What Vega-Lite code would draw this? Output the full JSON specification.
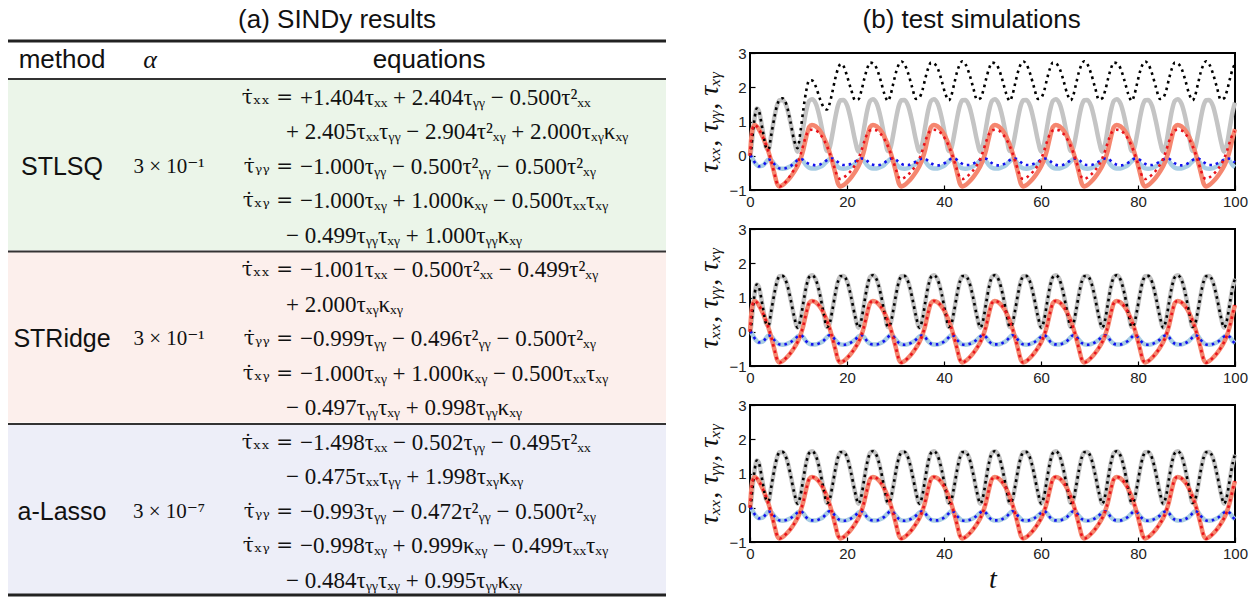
{
  "$schema": "https://vega.github.io/schema/vega-lite/v6.json",
  "padding": {"left": 6, "top": 6, "right": 0, "bottom": 0},
  "background": "white",
  "bounds": "flush",
  "spacing": 84,
  "datasets": {
    "methods": [
      {"method": "STLSQ", "alpha": "3 × 10⁻¹", "mid": 3, "first": 1, "last": 5},
      {"method": "STRidge", "alpha": "3 × 10⁻¹", "mid": 8, "first": 6, "last": 10},
      {"method": "a-Lasso", "alpha": "3 × 10⁻⁷", "mid": 13, "first": 11, "last": 15}
    ],
    "eqs": [
      {"line": 1, "lhs": "τ̇ₓₓ =", "rhs": "+1.404τₓₓ + 2.404τᵧᵧ − 0.500τ²ₓₓ"},
      {"line": 2, "lhs": "", "rhs": "+ 2.405τₓₓτᵧᵧ − 2.904τ²ₓᵧ + 2.000τₓᵧκₓᵧ"},
      {"line": 3, "lhs": "τ̇ᵧᵧ =", "rhs": "−1.000τᵧᵧ − 0.500τ²ᵧᵧ − 0.500τ²ₓᵧ"},
      {"line": 4, "lhs": "τ̇ₓᵧ =", "rhs": "−1.000τₓᵧ + 1.000κₓᵧ − 0.500τₓₓτₓᵧ"},
      {"line": 5, "lhs": "", "rhs": "− 0.499τᵧᵧτₓᵧ + 1.000τᵧᵧκₓᵧ"},
      {"line": 6, "lhs": "τ̇ₓₓ =", "rhs": "−1.001τₓₓ − 0.500τ²ₓₓ − 0.499τ²ₓᵧ"},
      {"line": 7, "lhs": "", "rhs": "+ 2.000τₓᵧκₓᵧ"},
      {"line": 8, "lhs": "τ̇ᵧᵧ =", "rhs": "−0.999τᵧᵧ − 0.496τ²ᵧᵧ − 0.500τ²ₓᵧ"},
      {"line": 9, "lhs": "τ̇ₓᵧ =", "rhs": "−1.000τₓᵧ + 1.000κₓᵧ − 0.500τₓₓτₓᵧ"},
      {"line": 10, "lhs": "", "rhs": "− 0.497τᵧᵧτₓᵧ + 0.998τᵧᵧκₓᵧ"},
      {"line": 11, "lhs": "τ̇ₓₓ =", "rhs": "−1.498τₓₓ − 0.502τᵧᵧ − 0.495τ²ₓₓ"},
      {"line": 12, "lhs": "", "rhs": "− 0.475τₓₓτᵧᵧ + 1.998τₓᵧκₓᵧ"},
      {"line": 13, "lhs": "τ̇ᵧᵧ =", "rhs": "−0.993τᵧᵧ − 0.472τ²ᵧᵧ − 0.500τ²ₓᵧ"},
      {"line": 14, "lhs": "τ̇ₓᵧ =", "rhs": "−0.998τₓᵧ + 0.999κₓᵧ − 0.499τₓₓτₓᵧ"},
      {"line": 15, "lhs": "", "rhs": "− 0.484τᵧᵧτₓᵧ + 0.995τᵧᵧκₓᵧ"}
    ],
    "sim": [
      {"t":0,"xx":0,"yy":0,"xy":0,"pxx":0,"pyy":0,"pxy":0},
      {"t":0.2,"xx":0.12,"yy":-0.01,"xy":0.42,"pxx":0.12,"pyy":-0.01,"pxy":0.42},
      {"t":0.5,"xx":0.55,"yy":-0.08,"xy":0.78,"pxx":0.55,"pyy":-0.08,"pxy":0.78},
      {"t":1.0,"xx":1.15,"yy":-0.2,"xy":0.9,"pxx":1.15,"pyy":-0.2,"pxy":0.9},
      {"t":1.4,"xx":1.38,"yy":-0.27,"xy":0.86,"pxx":1.38,"pyy":-0.27,"pxy":0.86},
      {"t":1.8,"xx":1.32,"yy":-0.31,"xy":0.78,"pxx":1.32,"pyy":-0.31,"pxy":0.78},
      {"t":2.6,"xx":0.75,"yy":-0.29,"xy":0.56,"pxx":0.75,"pyy":-0.29,"pxy":0.56},
      {"t":3.3,"xx":0.25,"yy":-0.19,"xy":0.32,"pxx":0.25,"pyy":-0.19,"pxy":0.32},
      {"t":3.8,"xx":0.18,"yy":-0.11,"xy":0.12,"pxx":0.18,"pyy":-0.11,"pxy":0.12},
      {"t":4.4,"xx":0.62,"yy":-0.13,"xy":-0.17,"pxx":0.62,"pyy":-0.13,"pxy":-0.17},
      {"t":5.0,"xx":1.1,"yy":-0.24,"xy":-0.5,"pxx":1.1,"pyy":-0.24,"pxy":-0.5},
      {"t":5.6,"xx":1.48,"yy":-0.33,"xy":-0.82,"pxx":1.48,"pyy":-0.33,"pxy":-0.82},
      {"t":6.1,"xx":1.62,"yy":-0.37,"xy":-0.9,"pxx":1.64,"pyy":-0.37,"pxy":-0.9},
      {"t":6.7,"xx":1.63,"yy":-0.38,"xy":-0.86,"pxx":1.68,"pyy":-0.38,"pxy":-0.86},
      {"t":7.5,"xx":1.45,"yy":-0.36,"xy":-0.76,"pxx":1.5,"pyy":-0.36,"pxy":-0.74},
      {"t":8.3,"xx":1.0,"yy":-0.31,"xy":-0.63,"pxx":1.02,"pyy":-0.31,"pxy":-0.58},
      {"t":9.1,"xx":0.45,"yy":-0.23,"xy":-0.47,"pxx":0.45,"pyy":-0.22,"pxy":-0.4},
      {"t":9.8,"xx":0.12,"yy":-0.14,"xy":-0.3,"pxx":0.22,"pyy":-0.13,"pxy":-0.2},
      {"t":10.4,"xx":0.35,"yy":-0.1,"xy":-0.1,"pxx":0.7,"pyy":-0.09,"pxy":0.02},
      {"t":11.0,"xx":0.85,"yy":-0.16,"xy":0.18,"pxx":1.35,"pyy":-0.12,"pxy":0.32},
      {"t":11.6,"xx":1.32,"yy":-0.28,"xy":0.55,"pxx":1.9,"pyy":-0.19,"pxy":0.6},
      {"t":12.2,"xx":1.6,"yy":-0.35,"xy":0.84,"pxx":2.2,"pyy":-0.24,"pxy":0.74},
      {"t":12.77,"xx":1.65,"yy":-0.37,"xy":0.9,"pxx":2.2,"pyy":-0.26,"pxy":0.76},
      {"t":13.57,"xx":1.52,"yy":-0.37,"xy":0.86,"pxx":2.02,"pyy":-0.28,"pxy":0.74},
      {"t":14.37,"xx":1.12,"yy":-0.33,"xy":0.74,"pxx":1.68,"pyy":-0.26,"pxy":0.64},
      {"t":15.17,"xx":0.55,"yy":-0.26,"xy":0.55,"pxx":1.42,"pyy":-0.2,"pxy":0.48},
      {"t":15.87,"xx":0.14,"yy":-0.16,"xy":0.32,"pxx":1.35,"pyy":-0.13,"pxy":0.28},
      {"t":16.37,"xx":0.22,"yy":-0.1,"xy":0.12,"pxx":1.5,"pyy":-0.09,"pxy":0.1},
      {"t":16.97,"xx":0.62,"yy":-0.13,"xy":-0.17,"pxx":1.85,"pyy":-0.08,"pxy":-0.15},
      {"t":17.57,"xx":1.1,"yy":-0.24,"xy":-0.5,"pxx":2.25,"pyy":-0.12,"pxy":-0.42},
      {"t":18.17,"xx":1.48,"yy":-0.33,"xy":-0.82,"pxx":2.55,"pyy":-0.19,"pxy":-0.64},
      {"t":18.67,"xx":1.62,"yy":-0.37,"xy":-0.9,"pxx":2.68,"pyy":-0.24,"pxy":-0.68},
      {"t":19.27,"xx":1.63,"yy":-0.38,"xy":-0.86,"pxx":2.62,"pyy":-0.27,"pxy":-0.64},
      {"t":20.07,"xx":1.45,"yy":-0.36,"xy":-0.76,"pxx":2.3,"pyy":-0.27,"pxy":-0.55},
      {"t":20.87,"xx":1.0,"yy":-0.31,"xy":-0.63,"pxx":1.92,"pyy":-0.23,"pxy":-0.43},
      {"t":21.67,"xx":0.45,"yy":-0.23,"xy":-0.47,"pxx":1.62,"pyy":-0.17,"pxy":-0.27},
      {"t":22.37,"xx":0.12,"yy":-0.14,"xy":-0.3,"pxx":1.65,"pyy":-0.11,"pxy":-0.08},
      {"t":22.97,"xx":0.35,"yy":-0.1,"xy":-0.1,"pxx":1.9,"pyy":-0.08,"pxy":0.15},
      {"t":23.57,"xx":0.85,"yy":-0.16,"xy":0.18,"pxx":2.25,"pyy":-0.09,"pxy":0.42},
      {"t":24.17,"xx":1.32,"yy":-0.28,"xy":0.55,"pxx":2.55,"pyy":-0.15,"pxy":0.64},
      {"t":24.77,"xx":1.6,"yy":-0.35,"xy":0.84,"pxx":2.72,"pyy":-0.22,"pxy":0.74},
      {"t":25.33,"xx":1.65,"yy":-0.37,"xy":0.9,"pxx":2.7,"pyy":-0.26,"pxy":0.76},
      {"t":26.13,"xx":1.52,"yy":-0.37,"xy":0.86,"pxx":2.55,"pyy":-0.28,"pxy":0.74},
      {"t":26.93,"xx":1.12,"yy":-0.33,"xy":0.74,"pxx":2.2,"pyy":-0.26,"pxy":0.64},
      {"t":27.73,"xx":0.55,"yy":-0.26,"xy":0.55,"pxx":1.8,"pyy":-0.2,"pxy":0.48},
      {"t":28.43,"xx":0.14,"yy":-0.16,"xy":0.32,"pxx":1.6,"pyy":-0.13,"pxy":0.28},
      {"t":28.93,"xx":0.22,"yy":-0.1,"xy":0.12,"pxx":1.75,"pyy":-0.09,"pxy":0.1},
      {"t":29.53,"xx":0.62,"yy":-0.13,"xy":-0.17,"pxx":2.1,"pyy":-0.08,"pxy":-0.15},
      {"t":30.13,"xx":1.1,"yy":-0.24,"xy":-0.5,"pxx":2.45,"pyy":-0.12,"pxy":-0.42},
      {"t":30.73,"xx":1.48,"yy":-0.33,"xy":-0.82,"pxx":2.68,"pyy":-0.19,"pxy":-0.64},
      {"t":31.23,"xx":1.62,"yy":-0.37,"xy":-0.9,"pxx":2.75,"pyy":-0.24,"pxy":-0.68},
      {"t":31.83,"xx":1.63,"yy":-0.38,"xy":-0.86,"pxx":2.68,"pyy":-0.27,"pxy":-0.64},
      {"t":32.63,"xx":1.45,"yy":-0.36,"xy":-0.76,"pxx":2.4,"pyy":-0.27,"pxy":-0.55},
      {"t":33.43,"xx":1.0,"yy":-0.31,"xy":-0.63,"pxx":2.0,"pyy":-0.23,"pxy":-0.43},
      {"t":34.23,"xx":0.45,"yy":-0.23,"xy":-0.47,"pxx":1.66,"pyy":-0.17,"pxy":-0.27},
      {"t":34.93,"xx":0.12,"yy":-0.14,"xy":-0.3,"pxx":1.7,"pyy":-0.11,"pxy":-0.08},
      {"t":35.53,"xx":0.35,"yy":-0.1,"xy":-0.1,"pxx":1.9,"pyy":-0.08,"pxy":0.15},
      {"t":36.13,"xx":0.85,"yy":-0.16,"xy":0.18,"pxx":2.25,"pyy":-0.09,"pxy":0.42},
      {"t":36.73,"xx":1.32,"yy":-0.28,"xy":0.55,"pxx":2.55,"pyy":-0.15,"pxy":0.64},
      {"t":37.33,"xx":1.6,"yy":-0.35,"xy":0.84,"pxx":2.72,"pyy":-0.22,"pxy":0.74},
      {"t":37.9,"xx":1.65,"yy":-0.37,"xy":0.9,"pxx":2.7,"pyy":-0.26,"pxy":0.76},
      {"t":38.7,"xx":1.52,"yy":-0.37,"xy":0.86,"pxx":2.55,"pyy":-0.28,"pxy":0.74},
      {"t":39.5,"xx":1.12,"yy":-0.33,"xy":0.74,"pxx":2.2,"pyy":-0.26,"pxy":0.64},
      {"t":40.3,"xx":0.55,"yy":-0.26,"xy":0.55,"pxx":1.8,"pyy":-0.2,"pxy":0.48},
      {"t":41.0,"xx":0.14,"yy":-0.16,"xy":0.32,"pxx":1.62,"pyy":-0.13,"pxy":0.28},
      {"t":41.5,"xx":0.22,"yy":-0.1,"xy":0.12,"pxx":1.75,"pyy":-0.09,"pxy":0.1},
      {"t":42.1,"xx":0.62,"yy":-0.13,"xy":-0.17,"pxx":2.1,"pyy":-0.08,"pxy":-0.15},
      {"t":42.7,"xx":1.1,"yy":-0.24,"xy":-0.5,"pxx":2.45,"pyy":-0.12,"pxy":-0.42},
      {"t":43.3,"xx":1.48,"yy":-0.33,"xy":-0.82,"pxx":2.68,"pyy":-0.19,"pxy":-0.64},
      {"t":43.8,"xx":1.62,"yy":-0.37,"xy":-0.9,"pxx":2.76,"pyy":-0.24,"pxy":-0.68},
      {"t":44.4,"xx":1.63,"yy":-0.38,"xy":-0.86,"pxx":2.68,"pyy":-0.27,"pxy":-0.64},
      {"t":45.2,"xx":1.45,"yy":-0.36,"xy":-0.76,"pxx":2.4,"pyy":-0.27,"pxy":-0.55},
      {"t":46.0,"xx":1.0,"yy":-0.31,"xy":-0.63,"pxx":2.0,"pyy":-0.23,"pxy":-0.43},
      {"t":46.8,"xx":0.45,"yy":-0.23,"xy":-0.47,"pxx":1.64,"pyy":-0.17,"pxy":-0.27},
      {"t":47.5,"xx":0.12,"yy":-0.14,"xy":-0.3,"pxx":1.68,"pyy":-0.11,"pxy":-0.08},
      {"t":48.1,"xx":0.35,"yy":-0.1,"xy":-0.1,"pxx":1.9,"pyy":-0.08,"pxy":0.15},
      {"t":48.7,"xx":0.85,"yy":-0.16,"xy":0.18,"pxx":2.25,"pyy":-0.09,"pxy":0.42},
      {"t":49.3,"xx":1.32,"yy":-0.28,"xy":0.55,"pxx":2.55,"pyy":-0.15,"pxy":0.64},
      {"t":49.9,"xx":1.6,"yy":-0.35,"xy":0.84,"pxx":2.72,"pyy":-0.22,"pxy":0.74},
      {"t":50.46,"xx":1.65,"yy":-0.37,"xy":0.9,"pxx":2.7,"pyy":-0.26,"pxy":0.76},
      {"t":51.26,"xx":1.52,"yy":-0.37,"xy":0.86,"pxx":2.55,"pyy":-0.28,"pxy":0.74},
      {"t":52.06,"xx":1.12,"yy":-0.33,"xy":0.74,"pxx":2.2,"pyy":-0.26,"pxy":0.64},
      {"t":52.86,"xx":0.55,"yy":-0.26,"xy":0.55,"pxx":1.8,"pyy":-0.2,"pxy":0.48},
      {"t":53.56,"xx":0.14,"yy":-0.16,"xy":0.32,"pxx":1.6,"pyy":-0.13,"pxy":0.28},
      {"t":54.06,"xx":0.22,"yy":-0.1,"xy":0.12,"pxx":1.75,"pyy":-0.09,"pxy":0.1},
      {"t":54.66,"xx":0.62,"yy":-0.13,"xy":-0.17,"pxx":2.1,"pyy":-0.08,"pxy":-0.15},
      {"t":55.26,"xx":1.1,"yy":-0.24,"xy":-0.5,"pxx":2.45,"pyy":-0.12,"pxy":-0.42},
      {"t":55.86,"xx":1.48,"yy":-0.33,"xy":-0.82,"pxx":2.68,"pyy":-0.19,"pxy":-0.64},
      {"t":56.36,"xx":1.62,"yy":-0.37,"xy":-0.9,"pxx":2.75,"pyy":-0.24,"pxy":-0.68},
      {"t":56.96,"xx":1.63,"yy":-0.38,"xy":-0.86,"pxx":2.68,"pyy":-0.27,"pxy":-0.64},
      {"t":57.76,"xx":1.45,"yy":-0.36,"xy":-0.76,"pxx":2.4,"pyy":-0.27,"pxy":-0.55},
      {"t":58.56,"xx":1.0,"yy":-0.31,"xy":-0.63,"pxx":2.0,"pyy":-0.23,"pxy":-0.43},
      {"t":59.36,"xx":0.45,"yy":-0.23,"xy":-0.47,"pxx":1.66,"pyy":-0.17,"pxy":-0.27},
      {"t":60.06,"xx":0.12,"yy":-0.14,"xy":-0.3,"pxx":1.7,"pyy":-0.11,"pxy":-0.08},
      {"t":60.66,"xx":0.35,"yy":-0.1,"xy":-0.1,"pxx":1.9,"pyy":-0.08,"pxy":0.15},
      {"t":61.26,"xx":0.85,"yy":-0.16,"xy":0.18,"pxx":2.25,"pyy":-0.09,"pxy":0.42},
      {"t":61.86,"xx":1.32,"yy":-0.28,"xy":0.55,"pxx":2.55,"pyy":-0.15,"pxy":0.64},
      {"t":62.46,"xx":1.6,"yy":-0.35,"xy":0.84,"pxx":2.72,"pyy":-0.22,"pxy":0.74},
      {"t":63.03,"xx":1.65,"yy":-0.37,"xy":0.9,"pxx":2.7,"pyy":-0.26,"pxy":0.76},
      {"t":63.83,"xx":1.52,"yy":-0.37,"xy":0.86,"pxx":2.55,"pyy":-0.28,"pxy":0.74},
      {"t":64.63,"xx":1.12,"yy":-0.33,"xy":0.74,"pxx":2.2,"pyy":-0.26,"pxy":0.64},
      {"t":65.43,"xx":0.55,"yy":-0.26,"xy":0.55,"pxx":1.8,"pyy":-0.2,"pxy":0.48},
      {"t":66.13,"xx":0.14,"yy":-0.16,"xy":0.32,"pxx":1.62,"pyy":-0.13,"pxy":0.28},
      {"t":66.63,"xx":0.22,"yy":-0.1,"xy":0.12,"pxx":1.75,"pyy":-0.09,"pxy":0.1},
      {"t":67.23,"xx":0.62,"yy":-0.13,"xy":-0.17,"pxx":2.1,"pyy":-0.08,"pxy":-0.15},
      {"t":67.83,"xx":1.1,"yy":-0.24,"xy":-0.5,"pxx":2.45,"pyy":-0.12,"pxy":-0.42},
      {"t":68.43,"xx":1.48,"yy":-0.33,"xy":-0.82,"pxx":2.68,"pyy":-0.19,"pxy":-0.64},
      {"t":68.93,"xx":1.62,"yy":-0.37,"xy":-0.9,"pxx":2.76,"pyy":-0.24,"pxy":-0.68},
      {"t":69.53,"xx":1.63,"yy":-0.38,"xy":-0.86,"pxx":2.68,"pyy":-0.27,"pxy":-0.64},
      {"t":70.33,"xx":1.45,"yy":-0.36,"xy":-0.76,"pxx":2.4,"pyy":-0.27,"pxy":-0.55},
      {"t":71.13,"xx":1.0,"yy":-0.31,"xy":-0.63,"pxx":2.0,"pyy":-0.23,"pxy":-0.43},
      {"t":71.93,"xx":0.45,"yy":-0.23,"xy":-0.47,"pxx":1.64,"pyy":-0.17,"pxy":-0.27},
      {"t":72.63,"xx":0.12,"yy":-0.14,"xy":-0.3,"pxx":1.68,"pyy":-0.11,"pxy":-0.08},
      {"t":73.23,"xx":0.35,"yy":-0.1,"xy":-0.1,"pxx":1.9,"pyy":-0.08,"pxy":0.15},
      {"t":73.83,"xx":0.85,"yy":-0.16,"xy":0.18,"pxx":2.25,"pyy":-0.09,"pxy":0.42},
      {"t":74.43,"xx":1.32,"yy":-0.28,"xy":0.55,"pxx":2.55,"pyy":-0.15,"pxy":0.64},
      {"t":75.03,"xx":1.6,"yy":-0.35,"xy":0.84,"pxx":2.72,"pyy":-0.22,"pxy":0.74},
      {"t":75.6,"xx":1.65,"yy":-0.37,"xy":0.9,"pxx":2.7,"pyy":-0.26,"pxy":0.76},
      {"t":76.4,"xx":1.52,"yy":-0.37,"xy":0.86,"pxx":2.55,"pyy":-0.28,"pxy":0.74},
      {"t":77.2,"xx":1.12,"yy":-0.33,"xy":0.74,"pxx":2.2,"pyy":-0.26,"pxy":0.64},
      {"t":78.0,"xx":0.55,"yy":-0.26,"xy":0.55,"pxx":1.8,"pyy":-0.2,"pxy":0.48},
      {"t":78.7,"xx":0.14,"yy":-0.16,"xy":0.32,"pxx":1.6,"pyy":-0.13,"pxy":0.28},
      {"t":79.2,"xx":0.22,"yy":-0.1,"xy":0.12,"pxx":1.75,"pyy":-0.09,"pxy":0.1},
      {"t":79.8,"xx":0.62,"yy":-0.13,"xy":-0.17,"pxx":2.1,"pyy":-0.08,"pxy":-0.15},
      {"t":80.4,"xx":1.1,"yy":-0.24,"xy":-0.5,"pxx":2.45,"pyy":-0.12,"pxy":-0.42},
      {"t":81.0,"xx":1.48,"yy":-0.33,"xy":-0.82,"pxx":2.68,"pyy":-0.19,"pxy":-0.64},
      {"t":81.5,"xx":1.62,"yy":-0.37,"xy":-0.9,"pxx":2.75,"pyy":-0.24,"pxy":-0.68},
      {"t":82.1,"xx":1.63,"yy":-0.38,"xy":-0.86,"pxx":2.68,"pyy":-0.27,"pxy":-0.64},
      {"t":82.9,"xx":1.45,"yy":-0.36,"xy":-0.76,"pxx":2.4,"pyy":-0.27,"pxy":-0.55},
      {"t":83.7,"xx":1.0,"yy":-0.31,"xy":-0.63,"pxx":2.0,"pyy":-0.23,"pxy":-0.43},
      {"t":84.5,"xx":0.45,"yy":-0.23,"xy":-0.47,"pxx":1.66,"pyy":-0.17,"pxy":-0.27},
      {"t":85.2,"xx":0.12,"yy":-0.14,"xy":-0.3,"pxx":1.7,"pyy":-0.11,"pxy":-0.08},
      {"t":85.8,"xx":0.35,"yy":-0.1,"xy":-0.1,"pxx":1.9,"pyy":-0.08,"pxy":0.15},
      {"t":86.4,"xx":0.85,"yy":-0.16,"xy":0.18,"pxx":2.25,"pyy":-0.09,"pxy":0.42},
      {"t":87.0,"xx":1.32,"yy":-0.28,"xy":0.55,"pxx":2.55,"pyy":-0.15,"pxy":0.64},
      {"t":87.6,"xx":1.6,"yy":-0.35,"xy":0.84,"pxx":2.72,"pyy":-0.22,"pxy":0.74},
      {"t":88.16,"xx":1.65,"yy":-0.37,"xy":0.9,"pxx":2.7,"pyy":-0.26,"pxy":0.76},
      {"t":88.96,"xx":1.52,"yy":-0.37,"xy":0.86,"pxx":2.55,"pyy":-0.28,"pxy":0.74},
      {"t":89.76,"xx":1.12,"yy":-0.33,"xy":0.74,"pxx":2.2,"pyy":-0.26,"pxy":0.64},
      {"t":90.56,"xx":0.55,"yy":-0.26,"xy":0.55,"pxx":1.8,"pyy":-0.2,"pxy":0.48},
      {"t":91.26,"xx":0.14,"yy":-0.16,"xy":0.32,"pxx":1.62,"pyy":-0.13,"pxy":0.28},
      {"t":91.76,"xx":0.22,"yy":-0.1,"xy":0.12,"pxx":1.75,"pyy":-0.09,"pxy":0.1},
      {"t":92.36,"xx":0.62,"yy":-0.13,"xy":-0.17,"pxx":2.1,"pyy":-0.08,"pxy":-0.15},
      {"t":92.96,"xx":1.1,"yy":-0.24,"xy":-0.5,"pxx":2.45,"pyy":-0.12,"pxy":-0.42},
      {"t":93.56,"xx":1.48,"yy":-0.33,"xy":-0.82,"pxx":2.68,"pyy":-0.19,"pxy":-0.64},
      {"t":94.06,"xx":1.62,"yy":-0.37,"xy":-0.9,"pxx":2.76,"pyy":-0.24,"pxy":-0.68},
      {"t":94.66,"xx":1.63,"yy":-0.38,"xy":-0.86,"pxx":2.68,"pyy":-0.27,"pxy":-0.64},
      {"t":95.46,"xx":1.45,"yy":-0.36,"xy":-0.76,"pxx":2.4,"pyy":-0.27,"pxy":-0.55},
      {"t":96.26,"xx":1.0,"yy":-0.31,"xy":-0.63,"pxx":2.0,"pyy":-0.23,"pxy":-0.43},
      {"t":97.06,"xx":0.45,"yy":-0.23,"xy":-0.47,"pxx":1.64,"pyy":-0.17,"pxy":-0.27},
      {"t":97.76,"xx":0.12,"yy":-0.14,"xy":-0.3,"pxx":1.68,"pyy":-0.11,"pxy":-0.08},
      {"t":98.36,"xx":0.35,"yy":-0.1,"xy":-0.1,"pxx":1.9,"pyy":-0.08,"pxy":0.15},
      {"t":98.96,"xx":0.85,"yy":-0.16,"xy":0.18,"pxx":2.25,"pyy":-0.09,"pxy":0.42},
      {"t":99.56,"xx":1.32,"yy":-0.28,"xy":0.55,"pxx":2.55,"pyy":-0.15,"pxy":0.64},
      {"t":100,"xx":1.55,"yy":-0.33,"xy":0.78,"pxx":2.68,"pyy":-0.2,"pxy":0.72}
    ]
  },
  "hconcat": [
    {
      "width": 658,
      "height": 544,
      "view": {"stroke": null},
      "title": {"text": "(a) SINDy results", "frame": "group", "offset": 7},
      "layer": [
        {
          "data": {"name": "methods"},
          "mark": {"type": "rect", "yOffset": -18.5, "y2Offset": 14},
          "encoding": {
            "x": {"datum": 0, "type": "quantitative", "scale": {"domain": [0, 658], "nice": false, "zero": false}, "axis": null},
            "x2": {"datum": 658},
            "y": {"field": "first", "type": "quantitative", "scale": {"domain": [-0.3043, 15.464], "nice": false, "zero": false, "reverse": true}, "axis": null},
            "y2": {"field": "last"},
            "color": {"field": "method", "type": "nominal", "scale": {"domain": ["STLSQ", "STRidge", "a-Lasso"], "range": ["#ebf5e9", "#fcefec", "#edeef8"]}, "legend": null}
          }
        },
        {
          "data": {"name": "methods"},
          "mark": {"type": "rule", "yOffset": -19, "strokeWidth": 2, "color": "#333"},
          "encoding": {
            "y": {"field": "first", "type": "quantitative", "scale": {"domain": [-0.3043, 15.464], "nice": false, "zero": false, "reverse": true}, "axis": null}
          }
        },
        {
          "data": {"values": [{"edge": "top"}]},
          "mark": {"type": "rule", "strokeWidth": 3, "color": "#222"},
          "encoding": {
            "y": {"datum": -0.652, "type": "quantitative", "scale": {"domain": [-0.3043, 15.464], "nice": false, "zero": false, "reverse": true}, "axis": null}
          }
        },
        {
          "data": {"values": [{"edge": "bottom"}]},
          "mark": {"type": "rule", "strokeWidth": 3, "color": "#222"},
          "encoding": {
            "y": {"datum": 15.406, "type": "quantitative", "scale": {"domain": [-0.3043, 15.464], "nice": false, "zero": false, "reverse": true}, "axis": null}
          }
        },
        {
          "data": {"values": [{"h": "method"}]},
          "mark": {"type": "text", "font": "Liberation Sans", "fontSize": 26, "align": "center", "baseline": "middle", "color": "#111"},
          "encoding": {
            "x": {"datum": 54, "type": "quantitative", "scale": {"domain": [0, 658], "nice": false, "zero": false}, "axis": null},
            "y": {"datum": -0.101, "type": "quantitative", "scale": {"domain": [-0.3043, 15.464], "nice": false, "zero": false, "reverse": true}, "axis": null},
            "text": {"field": "h"}
          }
        },
        {
          "data": {"values": [{"h": "α"}]},
          "mark": {"type": "text", "font": "Liberation Serif", "fontStyle": "italic", "fontSize": 26, "align": "center", "baseline": "middle", "color": "#111"},
          "encoding": {
            "x": {"datum": 142, "type": "quantitative", "scale": {"domain": [0, 658], "nice": false, "zero": false}, "axis": null},
            "y": {"datum": -0.101, "type": "quantitative", "scale": {"domain": [-0.3043, 15.464], "nice": false, "zero": false, "reverse": true}, "axis": null},
            "text": {"field": "h"}
          }
        },
        {
          "data": {"values": [{"h": "equations"}]},
          "mark": {"type": "text", "font": "Liberation Sans", "fontSize": 26, "align": "center", "baseline": "middle", "color": "#111"},
          "encoding": {
            "x": {"datum": 421, "type": "quantitative", "scale": {"domain": [0, 658], "nice": false, "zero": false}, "axis": null},
            "y": {"datum": -0.101, "type": "quantitative", "scale": {"domain": [-0.3043, 15.464], "nice": false, "zero": false, "reverse": true}, "axis": null},
            "text": {"field": "h"}
          }
        },
        {
          "data": {"name": "methods"},
          "mark": {"type": "text", "font": "Liberation Sans", "fontSize": 25, "align": "center", "baseline": "middle", "color": "#111"},
          "encoding": {
            "x": {"datum": 54, "type": "quantitative", "scale": {"domain": [0, 658], "nice": false, "zero": false}, "axis": null},
            "y": {"field": "mid", "type": "quantitative", "scale": {"domain": [-0.3043, 15.464], "nice": false, "zero": false, "reverse": true}, "axis": null},
            "text": {"field": "method"}
          }
        },
        {
          "data": {"name": "methods"},
          "mark": {"type": "text", "font": "Liberation Serif, DejaVu Serif, serif", "fontSize": 21, "align": "center", "baseline": "middle", "color": "#111"},
          "encoding": {
            "x": {"datum": 161, "type": "quantitative", "scale": {"domain": [0, 658], "nice": false, "zero": false}, "axis": null},
            "y": {"field": "mid", "type": "quantitative", "scale": {"domain": [-0.3043, 15.464], "nice": false, "zero": false, "reverse": true}, "axis": null},
            "text": {"field": "alpha"}
          }
        },
        {
          "data": {"name": "eqs"},
          "mark": {"type": "text", "font": "DejaVu Serif, serif", "fontSize": 20, "align": "right", "baseline": "middle", "color": "#111"},
          "encoding": {
            "x": {"datum": 285, "type": "quantitative", "scale": {"domain": [0, 658], "nice": false, "zero": false}, "axis": null},
            "y": {"field": "line", "type": "quantitative", "scale": {"domain": [-0.3043, 15.464], "nice": false, "zero": false, "reverse": true}, "axis": null},
            "text": {"field": "lhs"}
          }
        },
        {
          "data": {"name": "eqs"},
          "transform": [{"filter": "datum.lhs != ''"}],
          "mark": {"type": "text", "font": "Liberation Serif, DejaVu Serif, serif", "fontSize": 23, "align": "left", "baseline": "middle", "color": "#111"},
          "encoding": {
            "x": {"datum": 292, "type": "quantitative", "scale": {"domain": [0, 658], "nice": false, "zero": false}, "axis": null},
            "y": {"field": "line", "type": "quantitative", "scale": {"domain": [-0.3043, 15.464], "nice": false, "zero": false, "reverse": true}, "axis": null},
            "text": {"field": "rhs"}
          }
        },
        {
          "data": {"name": "eqs"},
          "transform": [{"filter": "datum.lhs == ''"}],
          "mark": {"type": "text", "font": "Liberation Serif, DejaVu Serif, serif", "fontSize": 23, "align": "left", "baseline": "middle", "color": "#111"},
          "encoding": {
            "x": {"datum": 278, "type": "quantitative", "scale": {"domain": [0, 658], "nice": false, "zero": false}, "axis": null},
            "y": {"field": "line", "type": "quantitative", "scale": {"domain": [-0.3043, 15.464], "nice": false, "zero": false, "reverse": true}, "axis": null},
            "text": {"field": "rhs"}
          }
        }
      ]
    },
    {
      "title": {"text": "(b) test simulations", "frame": "bounds", "anchor": "middle", "offset": 12},
      "bounds": "flush",
      "spacing": 39,
      "vconcat": [
        {
          "width": 485, "height": 137,
          "data": {"name": "sim"},
          "encoding": {
            "x": {"field": "t", "type": "quantitative", "scale": {"domain": [0, 100], "nice": false}, "title": null},
            "y": {"field": "xx", "type": "quantitative", "scale": {"domain": [-1, 3], "nice": false, "zero": false}, "title": "τₓₓ, τᵧᵧ, τₓᵧ"}
          },
          "layer": [
            {"mark": {"type": "line", "color": "#c4c4c4", "strokeWidth": 4.5, "interpolate": "monotone"}, "encoding": {"y": {"field": "xx", "type": "quantitative", "title": "τₓₓ, τᵧᵧ, τₓᵧ"}}},
            {"mark": {"type": "line", "color": "#a9cde3", "strokeWidth": 4.5, "interpolate": "monotone"}, "encoding": {"y": {"field": "yy", "type": "quantitative", "title": "τₓₓ, τᵧᵧ, τₓᵧ"}}},
            {"mark": {"type": "line", "color": "#f5866f", "strokeWidth": 4.5, "interpolate": "monotone"}, "encoding": {"y": {"field": "xy", "type": "quantitative", "title": "τₓₓ, τᵧᵧ, τₓᵧ"}}},
            {"mark": {"type": "line", "color": "#000000", "strokeWidth": 2.6, "strokeDash": [2.6, 4], "interpolate": "monotone"}, "encoding": {"y": {"field": "pxx", "type": "quantitative", "title": "τₓₓ, τᵧᵧ, τₓᵧ"}}},
            {"mark": {"type": "line", "color": "#1212ee", "strokeWidth": 2.6, "strokeDash": [2.6, 4], "interpolate": "monotone"}, "encoding": {"y": {"field": "pyy", "type": "quantitative", "title": "τₓₓ, τᵧᵧ, τₓᵧ"}}},
            {"mark": {"type": "line", "color": "#e8131b", "strokeWidth": 2.6, "strokeDash": [2.6, 4], "interpolate": "monotone"}, "encoding": {"y": {"field": "pxy", "type": "quantitative", "title": "τₓₓ, τᵧᵧ, τₓᵧ"}}},
            {"data": {"values": [{"lab": "(b-i)"}]}, "mark": {"type": "text", "align": "left", "baseline": "middle", "font": "Liberation Sans", "fontSize": 20, "color": "#111"}, "encoding": {"x": {"datum": 3.1, "type": "quantitative", "title": null}, "y": {"datum": 2.5, "type": "quantitative", "title": "τₓₓ, τᵧᵧ, τₓᵧ"}, "text": {"field": "lab"}}}
          ]
        },
        {
          "width": 485, "height": 137,
          "data": {"name": "sim"},
          "encoding": {
            "x": {"field": "t", "type": "quantitative", "scale": {"domain": [0, 100], "nice": false}, "title": null},
            "y": {"field": "xx", "type": "quantitative", "scale": {"domain": [-1, 3], "nice": false, "zero": false}, "title": "τₓₓ, τᵧᵧ, τₓᵧ"}
          },
          "layer": [
            {"mark": {"type": "line", "color": "#c4c4c4", "strokeWidth": 4.5, "interpolate": "monotone"}, "encoding": {"y": {"field": "xx", "type": "quantitative", "title": "τₓₓ, τᵧᵧ, τₓᵧ"}}},
            {"mark": {"type": "line", "color": "#a9cde3", "strokeWidth": 4.5, "interpolate": "monotone"}, "encoding": {"y": {"field": "yy", "type": "quantitative", "title": "τₓₓ, τᵧᵧ, τₓᵧ"}}},
            {"mark": {"type": "line", "color": "#f5866f", "strokeWidth": 4.5, "interpolate": "monotone"}, "encoding": {"y": {"field": "xy", "type": "quantitative", "title": "τₓₓ, τᵧᵧ, τₓᵧ"}}},
            {"mark": {"type": "line", "color": "#000000", "strokeWidth": 2.6, "strokeDash": [2.6, 4], "interpolate": "monotone"}, "encoding": {"y": {"field": "xx", "type": "quantitative", "title": "τₓₓ, τᵧᵧ, τₓᵧ"}}},
            {"mark": {"type": "line", "color": "#1212ee", "strokeWidth": 2.6, "strokeDash": [2.6, 4], "interpolate": "monotone"}, "encoding": {"y": {"field": "yy", "type": "quantitative", "title": "τₓₓ, τᵧᵧ, τₓᵧ"}}},
            {"mark": {"type": "line", "color": "#e8131b", "strokeWidth": 2.6, "strokeDash": [2.6, 4], "interpolate": "monotone"}, "encoding": {"y": {"field": "xy", "type": "quantitative", "title": "τₓₓ, τᵧᵧ, τₓᵧ"}}},
            {"data": {"values": [{"lab": "(b-ii)"}]}, "mark": {"type": "text", "align": "left", "baseline": "middle", "font": "Liberation Sans", "fontSize": 20, "color": "#111"}, "encoding": {"x": {"datum": 3.1, "type": "quantitative", "title": null}, "y": {"datum": 2.5, "type": "quantitative", "title": "τₓₓ, τᵧᵧ, τₓᵧ"}, "text": {"field": "lab"}}}
          ]
        },
        {
          "width": 485, "height": 137,
          "data": {"name": "sim"},
          "encoding": {
            "x": {"field": "t", "type": "quantitative", "scale": {"domain": [0, 100], "nice": false}, "title": "t"},
            "y": {"field": "xx", "type": "quantitative", "scale": {"domain": [-1, 3], "nice": false, "zero": false}, "title": "τₓₓ, τᵧᵧ, τₓᵧ"}
          },
          "layer": [
            {"mark": {"type": "line", "color": "#c4c4c4", "strokeWidth": 4.5, "interpolate": "monotone"}, "encoding": {"y": {"field": "xx", "type": "quantitative", "title": "τₓₓ, τᵧᵧ, τₓᵧ"}}},
            {"mark": {"type": "line", "color": "#a9cde3", "strokeWidth": 4.5, "interpolate": "monotone"}, "encoding": {"y": {"field": "yy", "type": "quantitative", "title": "τₓₓ, τᵧᵧ, τₓᵧ"}}},
            {"mark": {"type": "line", "color": "#f5866f", "strokeWidth": 4.5, "interpolate": "monotone"}, "encoding": {"y": {"field": "xy", "type": "quantitative", "title": "τₓₓ, τᵧᵧ, τₓᵧ"}}},
            {"mark": {"type": "line", "color": "#000000", "strokeWidth": 2.6, "strokeDash": [2.6, 4], "interpolate": "monotone"}, "encoding": {"y": {"field": "xx", "type": "quantitative", "title": "τₓₓ, τᵧᵧ, τₓᵧ"}}},
            {"mark": {"type": "line", "color": "#1212ee", "strokeWidth": 2.6, "strokeDash": [2.6, 4], "interpolate": "monotone"}, "encoding": {"y": {"field": "yy", "type": "quantitative", "title": "τₓₓ, τᵧᵧ, τₓᵧ"}}},
            {"mark": {"type": "line", "color": "#e8131b", "strokeWidth": 2.6, "strokeDash": [2.6, 4], "interpolate": "monotone"}, "encoding": {"y": {"field": "xy", "type": "quantitative", "title": "τₓₓ, τᵧᵧ, τₓᵧ"}}},
            {"data": {"values": [{"lab": "(b-iii)"}]}, "mark": {"type": "text", "align": "left", "baseline": "middle", "font": "Liberation Sans", "fontSize": 20, "color": "#111"}, "encoding": {"x": {"datum": 3.1, "type": "quantitative", "title": "t"}, "y": {"datum": 2.5, "type": "quantitative", "title": "τₓₓ, τᵧᵧ, τₓᵧ"}, "text": {"field": "lab"}}}
          ]
        }
      ]
    }
  ],
  "config": {
    "view": {"stroke": "#000000", "strokeWidth": 2},
    "font": "Liberation Sans",
    "axis": {
      "domain": false, "grid": false, "ticks": true, "tickSize": -5, "tickWidth": 1.2, "tickColor": "#000000",
      "labelFont": "Liberation Sans", "labelFontSize": 15, "labelColor": "#222222", "labelPadding": 9,
      "titleFont": "Liberation Serif", "titleFontStyle": "italic", "titleFontWeight": "normal", "titleColor": "#111111"
    },
    "axisX": {"tickCount": 5, "titleFontSize": 28, "titlePadding": 4, "labelFlush": false},
    "axisY": {"tickCount": 5, "titleFontSize": 28, "titlePadding": 5, "labelFlush": false},
    "title": {"font": "Liberation Sans", "fontSize": 26, "fontWeight": "normal", "color": "#111111", "anchor": "middle"}
  }
}
